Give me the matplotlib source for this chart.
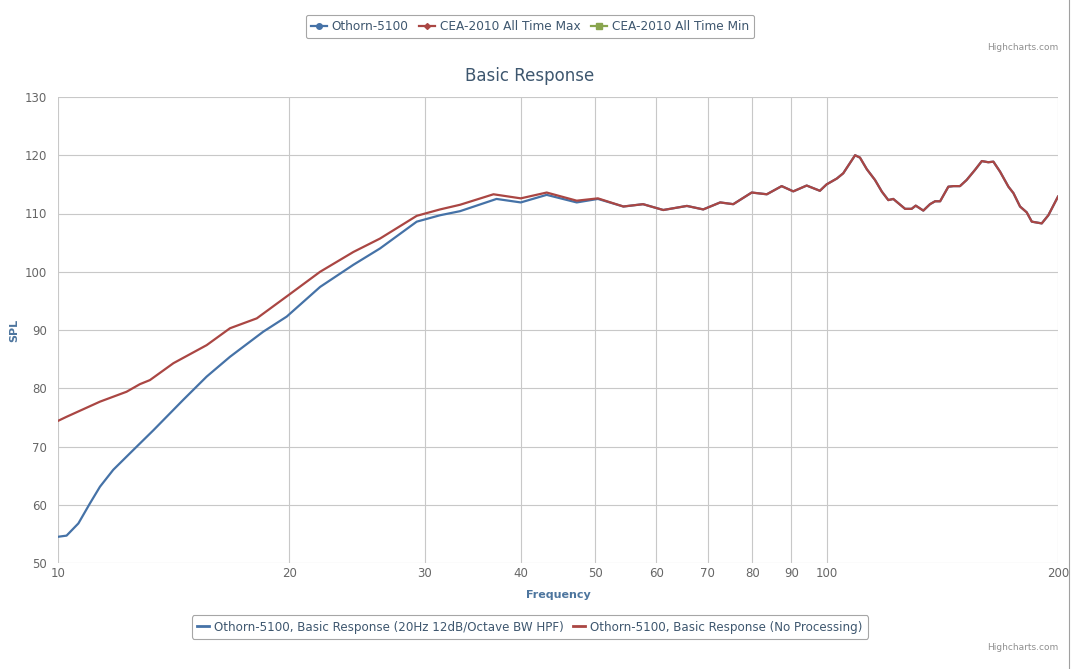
import matplotlib
matplotlib.use("Agg")
import matplotlib.pyplot as plt
from matplotlib.lines import Line2D

# --- data ------------------------------------------------------------------
# No Processing (red)
freq_raw = [10, 10.26, 11.34, 12.28, 12.78, 13.17, 14.13, 15.61, 16.74, 18.14,
            20, 21.93, 24.23, 26.24, 29.29, 31.41, 33.35, 36.86, 40, 43.23,
            47.3, 50.4, 54.4, 57.7, 61.3, 65.8, 69.1, 72.7, 75.6, 79.9,
            83.6, 87.4, 90.5, 94.2, 98, 100, 103.1, 105.1, 108.9, 110.5,
            112.8, 115.6, 118, 120.3, 122.1, 126.5, 129, 130.6, 133.6, 136.3,
            138.4, 140.5, 144.0, 146.2, 149.1, 152.1, 156, 159.2, 162.3, 164.8,
            168.1, 172.4, 175, 178.5, 182.1, 184.9, 190.5, 194.3, 200]
spl_raw = [74.4, 75.1, 77.7, 79.4, 80.7, 81.4, 84.3, 87.4, 90.3, 92.0,
           96.1, 100.0, 103.4, 105.7, 109.6, 110.7, 111.5, 113.3, 112.6, 113.6,
           112.2, 112.6, 111.2, 111.6, 110.6, 111.3, 110.7, 111.9, 111.6, 113.6,
           113.3, 114.7, 113.8, 114.8, 113.9, 115.0, 116.0, 116.9, 120.0, 119.6,
           117.6, 115.75, 113.75, 112.3, 112.5, 110.8, 110.8, 111.35, 110.5, 111.6,
           112.1, 112.1, 114.6, 114.7, 114.7, 115.75, 117.5, 119.0, 118.8, 118.9,
           117.2, 114.6, 113.5, 111.2, 110.2, 108.6, 108.3, 109.7, 112.9]

# 20Hz HPF (blue) - differs below ~50 Hz, identical above
freq_hpf_low = [10, 10.26, 10.63, 11.0, 11.34, 11.80, 12.53, 13.31, 14.55, 15.61,
                16.74, 18.49, 19.84, 21.93, 24.23, 26.24, 29.29, 31.41, 33.35, 37.2,
                40, 43.23, 47.3, 50.4]
spl_hpf_low = [54.5, 54.7, 56.8, 60.2, 63.1, 66.0, 69.4, 72.8, 78.0, 82.0,
               85.4, 89.7, 92.3, 97.4, 101.2, 104.0, 108.6, 109.7, 110.4, 112.5,
               111.9, 113.2, 111.9, 112.5]
n_shared = freq_raw.index(54.4)
freq_hpf = freq_hpf_low + freq_raw[n_shared:]
spl_hpf = spl_hpf_low + spl_raw[n_shared:]

x_ticks = [10, 20, 30, 40, 50, 60, 70, 80, 90, 100, 200]
y_ticks = [50, 60, 70, 80, 90, 100, 110, 120, 130]

BLUE = '#4572A7'
RED = '#AA4643'
GREEN = '#89A54E'
TXT = '#3E576F'

plt.rcParams['font.family'] = ['DejaVu Sans']

fig = plt.figure(figsize=(10.8, 6.69), dpi=100)
ax = fig.add_axes([58/1080, 1 - 563/669, 1000/1080, 466/669])

ax.plot(freq_hpf, spl_hpf, color=BLUE, lw=1.6, solid_joinstyle='round')
ax.plot(freq_raw, spl_raw, color=RED, lw=1.6, solid_joinstyle='round')

ax.set_xscale('log')
ax.set_xlim(10, 200)
ax.set_ylim(50, 130)
ax.set_xticks(x_ticks)
ax.set_xticklabels([str(t) for t in x_ticks])
ax.xaxis.set_minor_locator(matplotlib.ticker.NullLocator())
ax.set_yticks(y_ticks)
ax.grid(True, color='#C8C8C8', lw=0.8)
ax.set_axisbelow(True)
for s in ax.spines.values():
    s.set_visible(False)
ax.tick_params(axis='both', length=0, colors='#666666', labelsize=8.5)
ax.tick_params(axis='x', pad=3)
ax.tick_params(axis='y', pad=8)

ax.set_xlabel('Frequency', color='#4D759E', fontsize=8, fontweight='bold', labelpad=7)
ax.set_ylabel('SPL', color='#4D759E', fontsize=8, fontweight='bold', labelpad=4)

fig.text(530/1080, 1 - 76/669, 'Basic Response', ha='center', va='center',
         color=TXT, fontsize=12)

# top legend (series of the wider chart)
top_handles = [
    Line2D([], [], color=BLUE, lw=1.6, marker='o', markersize=4),
    Line2D([], [], color=RED, lw=1.6, marker='D', markersize=3),
    Line2D([], [], color=GREEN, lw=1.6, marker='s', markersize=4),
]
top_labels = ['Othorn-5100', 'CEA-2010 All Time Max', 'CEA-2010 All Time Min']
leg1 = fig.legend(top_handles, top_labels, loc='center', ncol=3,
                  bbox_to_anchor=(530/1080, 1 - 26.5/669), frameon=True,
                  fancybox=True, edgecolor='#909090', fontsize=8.7,
                  handlelength=1.3, handletextpad=0.4, columnspacing=0.9,
                  borderpad=0.45, labelcolor=TXT)
leg1.get_frame().set_linewidth(0.8)

bot_handles = [Line2D([], [], color=BLUE, lw=2), Line2D([], [], color=RED, lw=2)]
bot_labels = ['Othorn-5100, Basic Response (20Hz 12dB/Octave BW HPF)',
              'Othorn-5100, Basic Response (No Processing)']
leg2 = fig.legend(bot_handles, bot_labels, loc='center', ncol=2,
                  bbox_to_anchor=(530/1080, 1 - 627/669), frameon=True,
                  fancybox=True, edgecolor='#909090', fontsize=8.6,
                  handlelength=1.0, handletextpad=0.4, columnspacing=0.8,
                  borderpad=0.45, labelcolor=TXT)
leg2.get_frame().set_linewidth(0.8)

for yy in (48, 648):
    fig.text(1058/1080, 1 - yy/669, 'Highcharts.com', ha='right', va='center',
             color='#909090', fontsize=6.5)

fig.add_artist(Line2D([1069/1080, 1069/1080], [0, 1], color='#A0A0A0', lw=0.8))

fig.savefig('out.png', dpi=100, facecolor='white')
